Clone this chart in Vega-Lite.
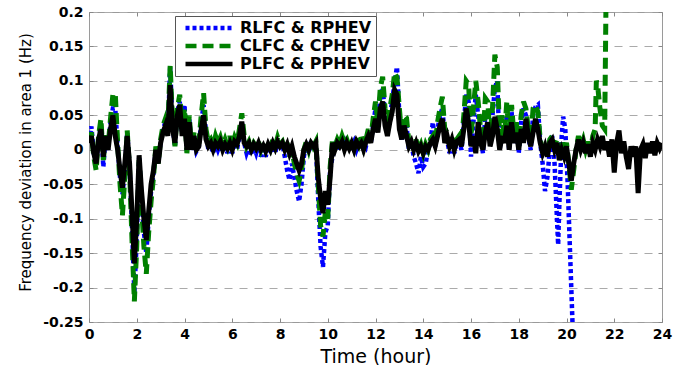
{
"$schema": "https://vega.github.io/schema/vega-lite/v6.json",
"width": 573, "height": 310,
"autosize": {"type": "none"},
"padding": {"left": 89, "top": 12, "right": 25, "bottom": 43},
"background": "white",
"config": {"view": {"stroke": "#9a9a9a", "strokeWidth": 1}, "font": "DejaVu Sans"},
"datasets": {
"R": [{"t":0,"v":0.012},{"t":0.1,"v":0.034},{"t":0.2,"v":-0.005},{"t":0.3,"v":-0.02},{"t":0.4,"v":0.015},{"t":0.5,"v":0.035},{"t":0.6,"v":-0.025},{"t":0.7,"v":0.02},{"t":0.8,"v":0},{"t":0.9,"v":0.04},{"t":1,"v":0.06},{"t":1.1,"v":0.06},{"t":1.2,"v":0.005},{"t":1.3,"v":-0.04},{"t":1.4,"v":-0.065},{"t":1.5,"v":-0.03},{"t":1.6,"v":0.025},{"t":1.7,"v":-0.025},{"t":1.8,"v":-0.11},{"t":1.9,"v":-0.208},{"t":2,"v":-0.13},{"t":2.1,"v":-0.012},{"t":2.2,"v":-0.07},{"t":2.3,"v":-0.12},{"t":2.4,"v":-0.15},{"t":2.5,"v":-0.1},{"t":2.6,"v":-0.06},{"t":2.7,"v":-0.035},{"t":2.8,"v":0},{"t":2.9,"v":-0.02},{"t":3,"v":0.012},{"t":3.1,"v":0.03},{"t":3.2,"v":0.04},{"t":3.3,"v":0.025},{"t":3.4,"v":0.12},{"t":3.5,"v":0.035},{"t":3.6,"v":0.005},{"t":3.7,"v":0.055},{"t":3.8,"v":0.07},{"t":3.9,"v":0.025},{"t":4,"v":0.065},{"t":4.1,"v":-0.002},{"t":4.2,"v":0.045},{"t":4.3,"v":0},{"t":4.4,"v":0.02},{"t":4.5,"v":-0.002},{"t":4.6,"v":0.005},{"t":4.7,"v":0.04},{"t":4.8,"v":0.065},{"t":4.9,"v":0.025},{"t":5,"v":0},{"t":5.1,"v":0.008},{"t":5.2,"v":-0.005},{"t":5.3,"v":0.01},{"t":5.4,"v":0},{"t":5.5,"v":0.01},{"t":5.6,"v":-0.003},{"t":5.7,"v":0.008},{"t":5.8,"v":-0.005},{"t":5.9,"v":0.01},{"t":6,"v":-0.005},{"t":6.1,"v":0.01},{"t":6.2,"v":0},{"t":6.3,"v":0.02},{"t":6.4,"v":0.04},{"t":6.5,"v":0.01},{"t":6.6,"v":-0.005},{"t":6.7,"v":0.005},{"t":6.8,"v":-0.008},{"t":6.9,"v":0.005},{"t":7,"v":-0.005},{"t":7.1,"v":0.008},{"t":7.2,"v":-0.01},{"t":7.3,"v":0.005},{"t":7.4,"v":-0.01},{"t":7.5,"v":0.005},{"t":7.6,"v":-0.005},{"t":7.7,"v":0.01},{"t":7.8,"v":-0.005},{"t":7.9,"v":0.012},{"t":8,"v":0},{"t":8.1,"v":0.008},{"t":8.2,"v":-0.01},{"t":8.3,"v":-0.03},{"t":8.4,"v":-0.044},{"t":8.5,"v":-0.02},{"t":8.6,"v":-0.04},{"t":8.7,"v":-0.06},{"t":8.8,"v":-0.075},{"t":8.9,"v":-0.05},{"t":9,"v":-0.01},{"t":9.1,"v":0.01},{"t":9.2,"v":-0.005},{"t":9.3,"v":0.012},{"t":9.4,"v":0},{"t":9.5,"v":0.008},{"t":9.6,"v":-0.07},{"t":9.7,"v":-0.14},{"t":9.8,"v":-0.17},{"t":9.9,"v":-0.12},{"t":10,"v":-0.11},{"t":10.1,"v":-0.03},{"t":10.2,"v":-0.01},{"t":10.3,"v":0.005},{"t":10.4,"v":0},{"t":10.5,"v":0.01},{"t":10.6,"v":0.005},{"t":10.7,"v":0.012},{"t":10.8,"v":0},{"t":10.9,"v":0.01},{"t":11,"v":0.005},{"t":11.1,"v":0.012},{"t":11.2,"v":0},{"t":11.3,"v":0.01},{"t":11.4,"v":0.005},{"t":11.5,"v":0.012},{"t":11.6,"v":0.005},{"t":11.7,"v":0.02},{"t":11.8,"v":0.01},{"t":11.9,"v":0.035},{"t":12,"v":0.06},{"t":12.1,"v":0.035},{"t":12.2,"v":0.08},{"t":12.3,"v":0.09},{"t":12.4,"v":0.05},{"t":12.5,"v":0.025},{"t":12.6,"v":0.05},{"t":12.7,"v":0.07},{"t":12.8,"v":0.1},{"t":12.9,"v":0.12},{"t":13,"v":0.05},{"t":13.1,"v":0.015},{"t":13.2,"v":0.04},{"t":13.3,"v":0.035},{"t":13.4,"v":0},{"t":13.5,"v":0.01},{"t":13.6,"v":-0.01},{"t":13.7,"v":-0.02},{"t":13.8,"v":-0.034},{"t":13.9,"v":-0.01},{"t":14,"v":-0.025},{"t":14.1,"v":-0.02},{"t":14.2,"v":0},{"t":14.3,"v":0.01},{"t":14.4,"v":0.04},{"t":14.5,"v":0.005},{"t":14.6,"v":0.03},{"t":14.7,"v":0.05},{"t":14.8,"v":0.06},{"t":14.9,"v":0.02},{"t":15,"v":0.015},{"t":15.1,"v":-0.005},{"t":15.2,"v":0.01},{"t":15.3,"v":-0.005},{"t":15.4,"v":0.01},{"t":15.5,"v":0.012},{"t":15.6,"v":0},{"t":15.7,"v":0.04},{"t":15.8,"v":0.08},{"t":15.9,"v":0.07},{"t":16,"v":-0.01},{"t":16.1,"v":0.04},{"t":16.2,"v":0.08},{"t":16.3,"v":0.05},{"t":16.4,"v":0.02},{"t":16.5,"v":-0.005},{"t":16.6,"v":0.05},{"t":16.7,"v":0.055},{"t":16.8,"v":0.01},{"t":16.9,"v":0.05},{"t":17,"v":0.09},{"t":17.1,"v":0.1},{"t":17.2,"v":0},{"t":17.3,"v":0.035},{"t":17.4,"v":0.01},{"t":17.5,"v":0.05},{"t":17.6,"v":0},{"t":17.7,"v":0.055},{"t":17.8,"v":0.01},{"t":17.9,"v":0.035},{"t":18,"v":-0.005},{"t":18.1,"v":0.04},{"t":18.2,"v":0.06},{"t":18.3,"v":0.05},{"t":18.4,"v":0.02},{"t":18.5,"v":0},{"t":18.6,"v":0.05},{"t":18.7,"v":0.062},{"t":18.8,"v":0.065},{"t":18.9,"v":0.01},{"t":19,"v":-0.02},{"t":19.1,"v":-0.06},{"t":19.2,"v":-0.04},{"t":19.3,"v":0},{"t":19.4,"v":0.02},{"t":19.5,"v":-0.02},{"t":19.6,"v":-0.1},{"t":19.65,"v":-0.138},{"t":19.7,"v":-0.08},{"t":19.8,"v":0.02},{"t":19.86,"v":0.048},{"t":19.95,"v":0.03},{"t":20.05,"v":-0.05},{"t":20.15,"v":-0.15},{"t":20.25,"v":-0.25},{"t":20.3,"v":-0.3}],
"C": [{"t":0,"v":0.015},{"t":0.1,"v":0.025},{"t":0.2,"v":-0.01},{"t":0.3,"v":-0.03},{"t":0.4,"v":0.02},{"t":0.5,"v":0.045},{"t":0.6,"v":-0.015},{"t":0.7,"v":0.025},{"t":0.8,"v":0.005},{"t":0.9,"v":0.045},{"t":1,"v":0.08},{"t":1.1,"v":0.082},{"t":1.2,"v":0.01},{"t":1.3,"v":-0.05},{"t":1.4,"v":-0.095},{"t":1.5,"v":-0.04},{"t":1.6,"v":0.028},{"t":1.7,"v":-0.03},{"t":1.8,"v":-0.13},{"t":1.9,"v":-0.22},{"t":2,"v":-0.14},{"t":2.1,"v":-0.015},{"t":2.2,"v":-0.08},{"t":2.3,"v":-0.14},{"t":2.4,"v":-0.18},{"t":2.5,"v":-0.12},{"t":2.6,"v":-0.075},{"t":2.7,"v":-0.04},{"t":2.8,"v":0.005},{"t":2.9,"v":-0.02},{"t":3,"v":0.015},{"t":3.1,"v":0.035},{"t":3.2,"v":0.045},{"t":3.3,"v":0.03},{"t":3.4,"v":0.122},{"t":3.5,"v":0.04},{"t":3.6,"v":0.005},{"t":3.7,"v":0.06},{"t":3.8,"v":0.08},{"t":3.9,"v":0.03},{"t":4,"v":0.06},{"t":4.1,"v":-0.005},{"t":4.2,"v":0.05},{"t":4.3,"v":0},{"t":4.4,"v":0.025},{"t":4.5,"v":0},{"t":4.6,"v":0.01},{"t":4.7,"v":0.05},{"t":4.8,"v":0.082},{"t":4.9,"v":0.03},{"t":5,"v":0.01},{"t":5.1,"v":0.015},{"t":5.2,"v":0.005},{"t":5.3,"v":0.02},{"t":5.4,"v":0.01},{"t":5.5,"v":0.018},{"t":5.6,"v":0.005},{"t":5.7,"v":0.015},{"t":5.8,"v":0.005},{"t":5.9,"v":0.02},{"t":6,"v":0.005},{"t":6.1,"v":0.018},{"t":6.2,"v":0.01},{"t":6.3,"v":0.03},{"t":6.4,"v":0.053},{"t":6.5,"v":0.02},{"t":6.6,"v":0.005},{"t":6.7,"v":0.012},{"t":6.8,"v":0.002},{"t":6.9,"v":0.01},{"t":7,"v":0.005},{"t":7.1,"v":0.012},{"t":7.2,"v":0},{"t":7.3,"v":0.01},{"t":7.4,"v":0},{"t":7.5,"v":0.01},{"t":7.6,"v":0.002},{"t":7.7,"v":0.015},{"t":7.8,"v":0.005},{"t":7.9,"v":0.018},{"t":8,"v":0.008},{"t":8.1,"v":0.012},{"t":8.2,"v":0},{"t":8.3,"v":0.01},{"t":8.4,"v":-0.01},{"t":8.5,"v":0},{"t":8.6,"v":-0.02},{"t":8.7,"v":-0.035},{"t":8.8,"v":-0.045},{"t":8.9,"v":-0.03},{"t":9,"v":0},{"t":9.1,"v":0.012},{"t":9.2,"v":0},{"t":9.3,"v":0.015},{"t":9.4,"v":0.005},{"t":9.5,"v":0.012},{"t":9.6,"v":-0.05},{"t":9.7,"v":-0.11},{"t":9.8,"v":-0.126},{"t":9.9,"v":-0.09},{"t":10,"v":-0.1},{"t":10.1,"v":-0.025},{"t":10.2,"v":0.015},{"t":10.3,"v":0.005},{"t":10.4,"v":0.015},{"t":10.5,"v":0.008},{"t":10.6,"v":0.02},{"t":10.7,"v":0.01},{"t":10.8,"v":0.015},{"t":10.9,"v":0.005},{"t":11,"v":0.012},{"t":11.1,"v":0.002},{"t":11.2,"v":0.018},{"t":11.3,"v":0.008},{"t":11.4,"v":0.021},{"t":11.5,"v":0.005},{"t":11.6,"v":0.015},{"t":11.7,"v":0.03},{"t":11.8,"v":0.015},{"t":11.9,"v":0.045},{"t":12,"v":0.07},{"t":12.1,"v":0.04},{"t":12.2,"v":0.09},{"t":12.3,"v":0.106},{"t":12.4,"v":0.06},{"t":12.5,"v":0.03},{"t":12.6,"v":0.06},{"t":12.7,"v":0.08},{"t":12.8,"v":0.112},{"t":12.9,"v":0.105},{"t":13,"v":0.06},{"t":13.1,"v":0.02},{"t":13.2,"v":0.05},{"t":13.3,"v":0.046},{"t":13.4,"v":0.01},{"t":13.5,"v":0.015},{"t":13.6,"v":0},{"t":13.7,"v":0.015},{"t":13.8,"v":0},{"t":13.9,"v":0.008},{"t":14,"v":-0.005},{"t":14.1,"v":0.008},{"t":14.2,"v":0},{"t":14.3,"v":0.015},{"t":14.4,"v":0.02},{"t":14.5,"v":0.01},{"t":14.6,"v":0.04},{"t":14.7,"v":0.06},{"t":14.8,"v":0.077},{"t":14.9,"v":0.03},{"t":15,"v":0.025},{"t":15.1,"v":0.008},{"t":15.2,"v":0.02},{"t":15.3,"v":0.002},{"t":15.4,"v":0.015},{"t":15.5,"v":0.02},{"t":15.6,"v":0.01},{"t":15.7,"v":0.05},{"t":15.8,"v":0.1},{"t":15.9,"v":0.095},{"t":16,"v":0.02},{"t":16.1,"v":0.06},{"t":16.2,"v":0.1},{"t":16.3,"v":0.07},{"t":16.4,"v":0.03},{"t":16.5,"v":0.01},{"t":16.6,"v":0.075},{"t":16.7,"v":0.07},{"t":16.8,"v":0.02},{"t":16.9,"v":0.06},{"t":17,"v":0.138},{"t":17.1,"v":0.12},{"t":17.2,"v":0.02},{"t":17.3,"v":0.05},{"t":17.4,"v":0.02},{"t":17.5,"v":0.07},{"t":17.6,"v":0.01},{"t":17.7,"v":0.065},{"t":17.8,"v":0.02},{"t":17.9,"v":0.04},{"t":18,"v":0.005},{"t":18.1,"v":0.05},{"t":18.2,"v":0.07},{"t":18.3,"v":0.06},{"t":18.4,"v":0.03},{"t":18.5,"v":0.01},{"t":18.6,"v":0.06},{"t":18.7,"v":0.065},{"t":18.8,"v":0.055},{"t":18.9,"v":0.015},{"t":19,"v":0},{"t":19.1,"v":0.01},{"t":19.2,"v":-0.005},{"t":19.3,"v":0.015},{"t":19.4,"v":0.02},{"t":19.5,"v":0.005},{"t":19.6,"v":0.015},{"t":19.7,"v":-0.01},{"t":19.8,"v":0.01},{"t":19.9,"v":0},{"t":20,"v":0.01},{"t":20.1,"v":-0.02},{"t":20.2,"v":-0.058},{"t":20.3,"v":-0.03},{"t":20.4,"v":0},{"t":20.5,"v":0.02},{"t":20.6,"v":0.005},{"t":20.7,"v":0.015},{"t":20.8,"v":0},{"t":20.9,"v":0.012},{"t":21,"v":-0.005},{"t":21.1,"v":0.02},{"t":21.2,"v":0.03},{"t":21.25,"v":0.1},{"t":21.3,"v":0.095},{"t":21.4,"v":0.06},{"t":21.5,"v":0.035},{"t":21.6,"v":0.03},{"t":21.65,"v":0.2},{"t":21.7,"v":0.35}],
"P": [{"t":0,"v":0.01},{"t":0.1,"v":0.02},{"t":0.2,"v":-0.005},{"t":0.3,"v":-0.02},{"t":0.4,"v":0.015},{"t":0.5,"v":0.03},{"t":0.6,"v":-0.01},{"t":0.7,"v":0.02},{"t":0.8,"v":0},{"t":0.9,"v":0.03},{"t":1,"v":0.05},{"t":1.1,"v":0.02},{"t":1.2,"v":0},{"t":1.3,"v":-0.03},{"t":1.4,"v":-0.055},{"t":1.5,"v":-0.02},{"t":1.6,"v":0.02},{"t":1.7,"v":-0.02},{"t":1.8,"v":-0.09},{"t":1.9,"v":-0.165},{"t":2,"v":-0.1},{"t":2.1,"v":-0.008},{"t":2.2,"v":-0.06},{"t":2.3,"v":-0.1},{"t":2.4,"v":-0.131},{"t":2.5,"v":-0.09},{"t":2.6,"v":-0.05},{"t":2.7,"v":-0.03},{"t":2.8,"v":0},{"t":2.9,"v":-0.02},{"t":3,"v":0.01},{"t":3.1,"v":0.025},{"t":3.2,"v":0.035},{"t":3.3,"v":0.02},{"t":3.4,"v":0.094},{"t":3.5,"v":0.03},{"t":3.6,"v":0.01},{"t":3.7,"v":0.05},{"t":3.8,"v":0.065},{"t":3.9,"v":0.02},{"t":4,"v":0.045},{"t":4.1,"v":0},{"t":4.2,"v":0.04},{"t":4.3,"v":0},{"t":4.4,"v":0.02},{"t":4.5,"v":0},{"t":4.6,"v":0.005},{"t":4.7,"v":0.03},{"t":4.8,"v":0.05},{"t":4.9,"v":0.015},{"t":5,"v":0.005},{"t":5.1,"v":0.01},{"t":5.2,"v":0},{"t":5.3,"v":0.01},{"t":5.4,"v":0.005},{"t":5.5,"v":0.012},{"t":5.6,"v":0},{"t":5.7,"v":0.008},{"t":5.8,"v":0.002},{"t":5.9,"v":0.01},{"t":6,"v":0},{"t":6.1,"v":0.012},{"t":6.2,"v":0.008},{"t":6.3,"v":0.02},{"t":6.4,"v":0.041},{"t":6.5,"v":0.01},{"t":6.6,"v":0.005},{"t":6.7,"v":0.01},{"t":6.8,"v":0},{"t":6.9,"v":0.008},{"t":7,"v":0.002},{"t":7.1,"v":0.01},{"t":7.2,"v":0},{"t":7.3,"v":0.006},{"t":7.4,"v":-0.002},{"t":7.5,"v":0.008},{"t":7.6,"v":0},{"t":7.7,"v":0.01},{"t":7.8,"v":0.002},{"t":7.9,"v":0.012},{"t":8,"v":0.005},{"t":8.1,"v":0.01},{"t":8.2,"v":0},{"t":8.3,"v":0.008},{"t":8.4,"v":-0.005},{"t":8.5,"v":0.005},{"t":8.6,"v":-0.01},{"t":8.7,"v":-0.02},{"t":8.8,"v":-0.03},{"t":8.9,"v":-0.02},{"t":9,"v":0},{"t":9.1,"v":0.008},{"t":9.2,"v":0},{"t":9.3,"v":0.01},{"t":9.4,"v":0.005},{"t":9.5,"v":0.01},{"t":9.6,"v":-0.04},{"t":9.7,"v":-0.07},{"t":9.8,"v":-0.092},{"t":9.9,"v":-0.06},{"t":10,"v":-0.08},{"t":10.1,"v":-0.04},{"t":10.2,"v":0.01},{"t":10.3,"v":0},{"t":10.4,"v":0.01},{"t":10.5,"v":0.005},{"t":10.6,"v":0.012},{"t":10.7,"v":0},{"t":10.8,"v":0.01},{"t":10.9,"v":0.002},{"t":11,"v":0.01},{"t":11.1,"v":0},{"t":11.2,"v":0.012},{"t":11.3,"v":0.005},{"t":11.4,"v":0.01},{"t":11.5,"v":0},{"t":11.6,"v":0.012},{"t":11.7,"v":0.02},{"t":11.8,"v":0.01},{"t":11.9,"v":0.03},{"t":12,"v":0.045},{"t":12.1,"v":0.025},{"t":12.2,"v":0.06},{"t":12.3,"v":0.07},{"t":12.4,"v":0.035},{"t":12.5,"v":0.02},{"t":12.6,"v":0.04},{"t":12.7,"v":0.055},{"t":12.8,"v":0.087},{"t":12.9,"v":0.08},{"t":13,"v":0.03},{"t":13.1,"v":0.015},{"t":13.2,"v":0.035},{"t":13.3,"v":0.02},{"t":13.4,"v":0.005},{"t":13.5,"v":0.012},{"t":13.6,"v":0},{"t":13.7,"v":0.01},{"t":13.8,"v":-0.002},{"t":13.9,"v":0.005},{"t":14,"v":-0.005},{"t":14.1,"v":0.005},{"t":14.2,"v":0},{"t":14.3,"v":0.01},{"t":14.4,"v":0.015},{"t":14.5,"v":0.005},{"t":14.6,"v":0.02},{"t":14.7,"v":0.035},{"t":14.8,"v":0.045},{"t":14.9,"v":0.01},{"t":15,"v":0.02},{"t":15.1,"v":0.005},{"t":15.2,"v":0.015},{"t":15.3,"v":0},{"t":15.4,"v":0.012},{"t":15.5,"v":0.015},{"t":15.6,"v":0.005},{"t":15.7,"v":0.03},{"t":15.8,"v":0.06},{"t":15.9,"v":0.04},{"t":16,"v":0.005},{"t":16.1,"v":0.02},{"t":16.2,"v":-0.005},{"t":16.3,"v":0.04},{"t":16.4,"v":0.01},{"t":16.5,"v":0},{"t":16.6,"v":0.025},{"t":16.7,"v":0.04},{"t":16.8,"v":0.005},{"t":16.9,"v":0.02},{"t":17,"v":0.048},{"t":17.1,"v":0.03},{"t":17.2,"v":0},{"t":17.3,"v":0.02},{"t":17.4,"v":0.01},{"t":17.5,"v":0.035},{"t":17.6,"v":0},{"t":17.7,"v":0.04},{"t":17.8,"v":0.01},{"t":17.9,"v":0.025},{"t":18,"v":0},{"t":18.1,"v":0.03},{"t":18.2,"v":0.01},{"t":18.3,"v":0.045},{"t":18.4,"v":0.02},{"t":18.5,"v":0.005},{"t":18.6,"v":0.025},{"t":18.7,"v":0.045},{"t":18.8,"v":0.03},{"t":18.9,"v":0.01},{"t":19,"v":-0.005},{"t":19.1,"v":0.005},{"t":19.2,"v":-0.01},{"t":19.3,"v":0.01},{"t":19.4,"v":0.015},{"t":19.5,"v":0},{"t":19.6,"v":0.01},{"t":19.7,"v":-0.015},{"t":19.8,"v":0},{"t":19.9,"v":-0.01},{"t":20,"v":0.005},{"t":20.1,"v":-0.02},{"t":20.2,"v":-0.045},{"t":20.3,"v":-0.02},{"t":20.4,"v":0},{"t":20.5,"v":0.015},{"t":20.6,"v":0},{"t":20.7,"v":0.01},{"t":20.8,"v":-0.005},{"t":20.9,"v":0.008},{"t":21,"v":-0.01},{"t":21.1,"v":0.01},{"t":21.2,"v":0},{"t":21.3,"v":0.015},{"t":21.4,"v":0.005},{"t":21.5,"v":0.02},{"t":21.6,"v":0},{"t":21.7,"v":0.012},{"t":21.8,"v":-0.01},{"t":21.9,"v":0.015},{"t":22,"v":-0.033},{"t":22.1,"v":0.01},{"t":22.2,"v":0.028},{"t":22.3,"v":-0.005},{"t":22.4,"v":0.012},{"t":22.5,"v":-0.01},{"t":22.6,"v":-0.028},{"t":22.7,"v":0.005},{"t":22.8,"v":-0.01},{"t":22.9,"v":0.005},{"t":23,"v":-0.063},{"t":23.1,"v":0},{"t":23.2,"v":0.008},{"t":23.3,"v":-0.012},{"t":23.4,"v":0.01},{"t":23.5,"v":-0.005},{"t":23.6,"v":0.012},{"t":23.7,"v":-0.008},{"t":23.8,"v":0.01},{"t":23.9,"v":0.002},{"t":24,"v":0.01}]
},
"layer": [
{"data": {"name": "R"},
 "mark": {"type": "line", "strokeWidth": 4.5, "clip": true, "strokeCap": "butt"},
 "encoding": {
  "x": {"field": "t", "type": "quantitative", "scale": {"domain": [0, 24], "nice": false},
   "axis": {"orient": "bottom", "values": [0,2,4,6,8,10,12,14,16,18,20,22,24], "title": "Time (hour)", "titleFont": "DejaVu Sans", "titleFontSize": 19, "titleFontWeight": "normal", "titleColor": "black", "titleY": 34, "titleBaseline": "middle", "labelFont": "DejaVu Sans", "labelFontSize": 14, "labelFontWeight": "bold", "labelColor": "black", "labelPadding": 9, "tickSize": -4, "tickColor": "#888888", "domain": false, "grid": false, "labelFlush": false, "labelOverlap": false}},
  "y": {"field": "v", "type": "quantitative", "scale": {"domain": [-0.25, 0.2], "nice": false, "zero": false},
   "axis": {"orient": "left", "values": [-0.25,-0.2,-0.15,-0.1,-0.05,0,0.05,0.1,0.15,0.2], "labelExpr": "datum.value == 0 ? '0' : '' + round(datum.value*100)/100", "title": "Frequency deviation in area 1 (Hz)", "titleFont": "DejaVu Sans", "titleFontSize": 15, "titleFontWeight": "normal", "titleColor": "black", "titleX": -64, "titleY": 150, "titleBaseline": "middle", "labelFont": "DejaVu Sans", "labelFontSize": 14, "labelFontWeight": "bold", "labelColor": "black", "labelPadding": 10, "tickSize": -4, "tickColor": "#888888", "domain": false, "grid": true, "gridColor": "#aaaaaa", "gridDash": [8, 7], "gridWidth": 1.2, "labelOverlap": false}},
  "color": {"datum": "RLFC & RPHEV", "type": "nominal",
   "scale": {"domain": ["RLFC & RPHEV", "CLFC & CPHEV", "PLFC & PPHEV"], "range": ["#0000ff", "#008000", "#000000"]},
   "legend": {"orient": "none", "legendX": 86, "legendY": 4, "title": null, "symbolType": "stroke", "symbolSize": 2209, "symbolStrokeWidth": 4.5, "clipHeight": 16, "rowPadding": 2, "padding": 4, "symbolOffset": 4, "labelOffset": 5, "labelFont": "DejaVu Sans", "labelFontSize": 16, "labelFontWeight": "bold", "labelColor": "black", "strokeColor": "#555555", "fillColor": "white", "labelLimit": 300}},
  "strokeDash": {"datum": "RLFC & RPHEV", "type": "nominal",
   "scale": {"domain": ["RLFC & RPHEV", "CLFC & CPHEV", "PLFC & PPHEV"], "range": [[4, 3], [11, 6], [1, 0]]},
   "legend": {"orient": "none", "legendX": 86, "legendY": 4, "title": null, "symbolType": "stroke", "symbolSize": 2209, "symbolStrokeWidth": 4.5, "clipHeight": 16, "rowPadding": 2, "padding": 4, "symbolOffset": 4, "labelOffset": 5, "labelFont": "DejaVu Sans", "labelFontSize": 16, "labelFontWeight": "bold", "labelColor": "black", "strokeColor": "#555555", "fillColor": "white", "labelLimit": 300}}
 }},
{"data": {"name": "C"},
 "mark": {"type": "line", "strokeWidth": 5, "clip": true, "strokeCap": "butt"},
 "encoding": {
  "x": {"field": "t", "type": "quantitative", "axis": {"orient": "top", "values": [0,2,4,6,8,10,12,14,16,18,20,22,24], "labels": false, "title": null, "tickSize": -4, "tickColor": "#888888", "domain": false, "grid": false}},
  "y": {"field": "v", "type": "quantitative", "axis": {"orient": "right", "values": [-0.25,-0.2,-0.15,-0.1,-0.05,0,0.05,0.1,0.15,0.2], "labels": false, "title": null, "tickSize": -4, "tickColor": "#888888", "domain": false, "grid": false}},
  "color": {"datum": "CLFC & CPHEV", "type": "nominal"},
  "strokeDash": {"datum": "CLFC & CPHEV", "type": "nominal"}
 }},
{"data": {"name": "P"},
 "mark": {"type": "line", "strokeWidth": 5, "clip": true, "strokeCap": "butt"},
 "encoding": {
  "x": {"field": "t", "type": "quantitative", "axis": null},
  "y": {"field": "v", "type": "quantitative", "axis": null},
  "color": {"datum": "PLFC & PPHEV", "type": "nominal"},
  "strokeDash": {"datum": "PLFC & PPHEV", "type": "nominal"}
 }}
],
"resolve": {"axis": {"x": "independent", "y": "independent"}}
}
